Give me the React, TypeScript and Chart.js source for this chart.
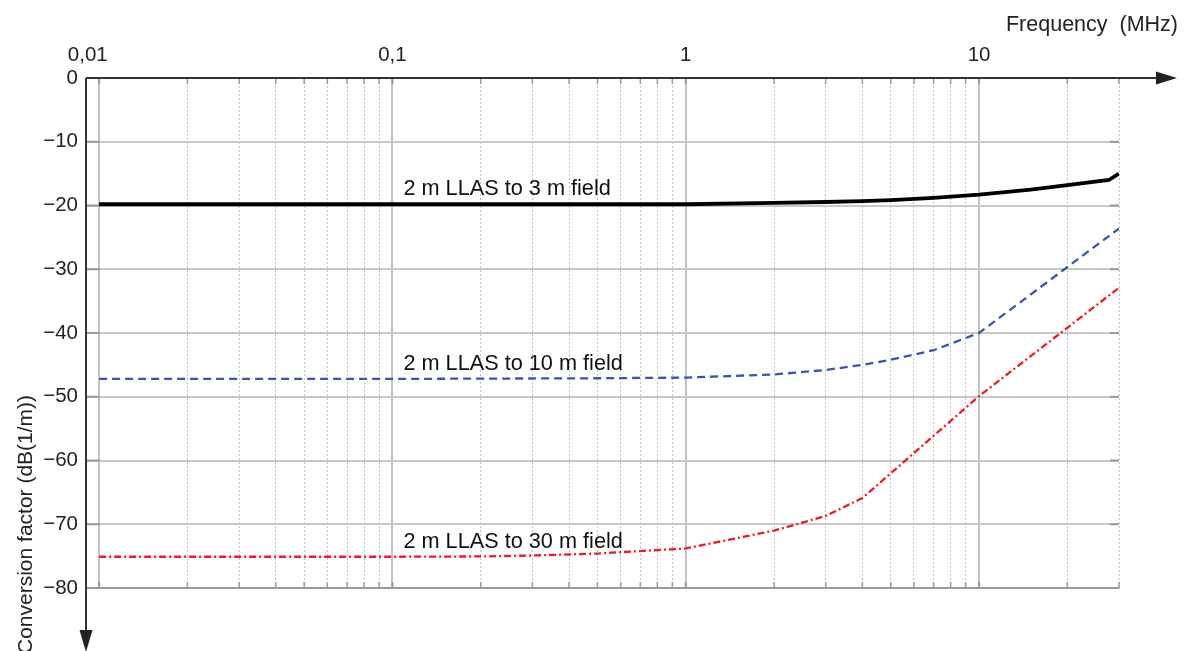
import React, { useEffect, useRef } from "react";
import { Chart, registerables } from "chart.js";

Chart.register(...registerables);

const FONT = "Arial, 'Liberation Sans', Helvetica, sans-serif";

// ---- data ----
const freq3 = [0.01, 1, 2, 3, 4, 5, 7, 10, 15, 20, 27.7, 30];
const conv3 = [-19.8, -19.8, -19.6, -19.45, -19.3, -19.15, -18.8, -18.3, -17.5, -16.8, -16.0, -15.0];

const freq10 = [0.01, 0.1, 0.5, 1, 2, 3, 4, 5, 7, 10, 30];
const conv10 = [-47.2, -47.2, -47.1, -47.0, -46.5, -45.8, -45.0, -44.2, -42.7, -40.0, -23.6];

const freq30 = [0.01, 0.1, 0.2, 0.3, 0.5, 0.7, 1, 2, 3, 4, 10, 30];
const conv30 = [-75.1, -75.1, -75.05, -74.9, -74.6, -74.2, -73.8, -71.0, -68.7, -65.9, -49.9, -32.9];

const seriesNames = ["2 m LLAS to 3 m field", "2 m LLAS to 10 m field", "2 m LLAS to 30 m field"];

const majorFreqTicks = [0.01, 0.1, 1, 10];
const majorFreqLabels = ["0,01\u2007\u2007", "0,1", "1", "10"];
const minorFreqTicks = [
  0.02, 0.03, 0.04, 0.05, 0.06, 0.07, 0.08, 0.09,
  0.2, 0.3, 0.4, 0.5, 0.6, 0.7, 0.8, 0.9,
  2, 3, 4, 5, 6, 7, 8, 9,
  20, 30,
];
const convTicks = [0, -10, -20, -30, -40, -50, -60, -70, -80];

const xTitle = "Frequency  (MHz)";
const yTitle = "Conversion factor (dB(1/m))";

// label anchors (data coordinates)
const labelFreq = 0.109;
const labelConv = [-18.35, -45.8, -73.7];

const X_MIN = 0.00902;
const X_MAX = 30;

const toPoints = (xs: number[], ys: number[]) => xs.map((x, i) => ({ x, y: ys[i] }));

const decorPlugin = {
  id: "decor",
  beforeDatasetsDraw(chart: any) {
    const ctx = chart.ctx;
    const { left, right, top, bottom } = chart.chartArea;
    const xs = chart.scales.x;
    const ys = chart.scales.y;
    ctx.save();
    ctx.strokeStyle = "#9a9a9a";
    ctx.lineWidth = 2;
    convTicks.forEach((v) => {
      if (v === 0) return;
      const y = ys.getPixelForValue(v);
      ctx.beginPath();
      ctx.moveTo(left, y);
      ctx.lineTo(left + 14, y);
      ctx.moveTo(right - 9, y);
      ctx.lineTo(right, y);
      ctx.stroke();
    });
    const allX = [...majorFreqTicks, ...minorFreqTicks];
    allX.forEach((v) => {
      const x = xs.getPixelForValue(v);
      ctx.lineWidth = majorFreqTicks.includes(v) ? 2 : 1.5;
      ctx.beginPath();
      ctx.moveTo(x, top);
      ctx.lineTo(x, top + 6);
      ctx.moveTo(x, bottom - 6);
      ctx.lineTo(x, bottom);
      ctx.stroke();
    });
    ctx.restore();
  },
  afterDatasetsDraw(chart: any) {
    const ctx = chart.ctx;
    const { left, top } = chart.chartArea;
    const xs = chart.scales.x;
    const ys = chart.scales.y;
    ctx.save();
    ctx.strokeStyle = "#333";
    ctx.fillStyle = "#222";
    ctx.lineWidth = 2;
    ctx.beginPath();
    ctx.moveTo(left, top);
    ctx.lineTo(1160, top);
    ctx.moveTo(left, top);
    ctx.lineTo(left, 636);
    ctx.stroke();
    ctx.beginPath();
    ctx.moveTo(1177, top);
    ctx.lineTo(1156, top - 6.5);
    ctx.lineTo(1156, top + 6.5);
    ctx.closePath();
    ctx.fill();
    ctx.beginPath();
    ctx.moveTo(left, 652);
    ctx.lineTo(left - 6.5, 630);
    ctx.lineTo(left + 6.5, 630);
    ctx.closePath();
    ctx.fill();

    ctx.fillStyle = "#111";
    ctx.font = `21.7px ${FONT}`;
    ctx.textAlign = "left";
    ctx.textBaseline = "alphabetic";
    seriesNames.forEach((name, i) => {
      ctx.fillText(name, xs.getPixelForValue(labelFreq), ys.getPixelForValue(labelConv[i]));
    });

    ctx.fillStyle = "#222";
    ctx.font = `21.5px ${FONT}`;
    ctx.textAlign = "right";
    ctx.fillText(xTitle, 1178, 31);
    ctx.translate(32, 654);
    ctx.rotate(-Math.PI / 2);
    ctx.textAlign = "left";
    ctx.font = `21px ${FONT}`;
    ctx.fillText(yTitle, 0, 0);
    ctx.restore();
  },
};

export default function App() {
  const canvasRef = useRef<HTMLCanvasElement | null>(null);

  useEffect(() => {
    const canvas = canvasRef.current;
    if (!canvas) return;
    const chart = new Chart(canvas, {
      type: "line",
      data: {
        datasets: [
          {
            label: seriesNames[0],
            data: toPoints(freq3, conv3),
            borderColor: "#000000",
            borderWidth: 3.8,
            pointRadius: 0,
            tension: 0,
            fill: false,
          },
          {
            label: seriesNames[1],
            data: toPoints(freq10, conv10),
            borderColor: "#3556aa",
            borderWidth: 2.3,
            borderDash: [8, 5],
            pointRadius: 0,
            tension: 0,
            fill: false,
          },
          {
            label: seriesNames[2],
            data: toPoints(freq30, conv30),
            borderColor: "#ec1c24",
            borderWidth: 2.3,
            borderDash: [7, 3, 2, 3],
            pointRadius: 0,
            tension: 0,
            fill: false,
          },
        ],
      },
      options: {
        responsive: false,
        animation: false,
        devicePixelRatio: 1,
        layout: { padding: { left: 0, top: 0, right: 65, bottom: 63 } },
        plugins: {
          legend: { display: false },
          tooltip: { enabled: false },
          title: { display: false },
        },
        scales: {
          x: {
            type: "logarithmic",
            position: "top",
            min: X_MIN,
            max: X_MAX,
            afterBuildTicks: (s: any) => {
              s.ticks = majorFreqTicks.map((v) => ({ value: v }));
            },
            afterFit: (s: any) => {
              s.height = 78;
            },
            ticks: {
              autoSkip: false,
              maxRotation: 0,
              padding: 10,
              color: "#222",
              font: { family: FONT, size: 20.5 },
              callback: (v: any) => {
                const i = majorFreqTicks.indexOf(Number(v));
                return i >= 0 ? majorFreqLabels[i] : "";
              },
            },
            grid: { color: "#c4c4c4", lineWidth: 2, drawTicks: false },
            border: { display: false },
          },
          xMinor: {
            type: "logarithmic",
            position: "top",
            min: X_MIN,
            max: X_MAX,
            afterBuildTicks: (s: any) => {
              s.ticks = minorFreqTicks.map((v) => ({ value: v }));
            },
            afterFit: (s: any) => {
              s.height = 0;
            },
            ticks: { display: false },
            grid: { color: "#c2c2c2", lineWidth: 1, drawTicks: false },
            border: { display: false, dash: [2, 2] },
          },
          y: {
            type: "linear",
            min: -80,
            max: 0,
            afterBuildTicks: (s: any) => {
              s.ticks = convTicks.map((v) => ({ value: v }));
            },
            afterFit: (s: any) => {
              s.width = 86;
            },
            ticks: {
              padding: 8,
              color: "#222",
              font: { family: FONT, size: 20.5 },
              callback: (v: any) => (Number(v) === 0 ? "0" : "\u2212" + Math.abs(Number(v))),
            },
            grid: {
              color: (c: any) => (c.tick && c.tick.value === -80 ? "#9a9a9a" : "#c8c8c8"),
              lineWidth: 2,
              drawTicks: false,
            },
            border: { display: false },
          },
        },
      },
      plugins: [decorPlugin],
    } as any);
    return () => chart.destroy();
  }, []);

  return (
    <div style={{ position: "fixed", left: 0, top: 0, width: 1184, height: 651, background: "#fff" }}>
      <canvas ref={canvasRef} width={1184} height={651} style={{ display: "block" }} />
    </div>
  );
}
